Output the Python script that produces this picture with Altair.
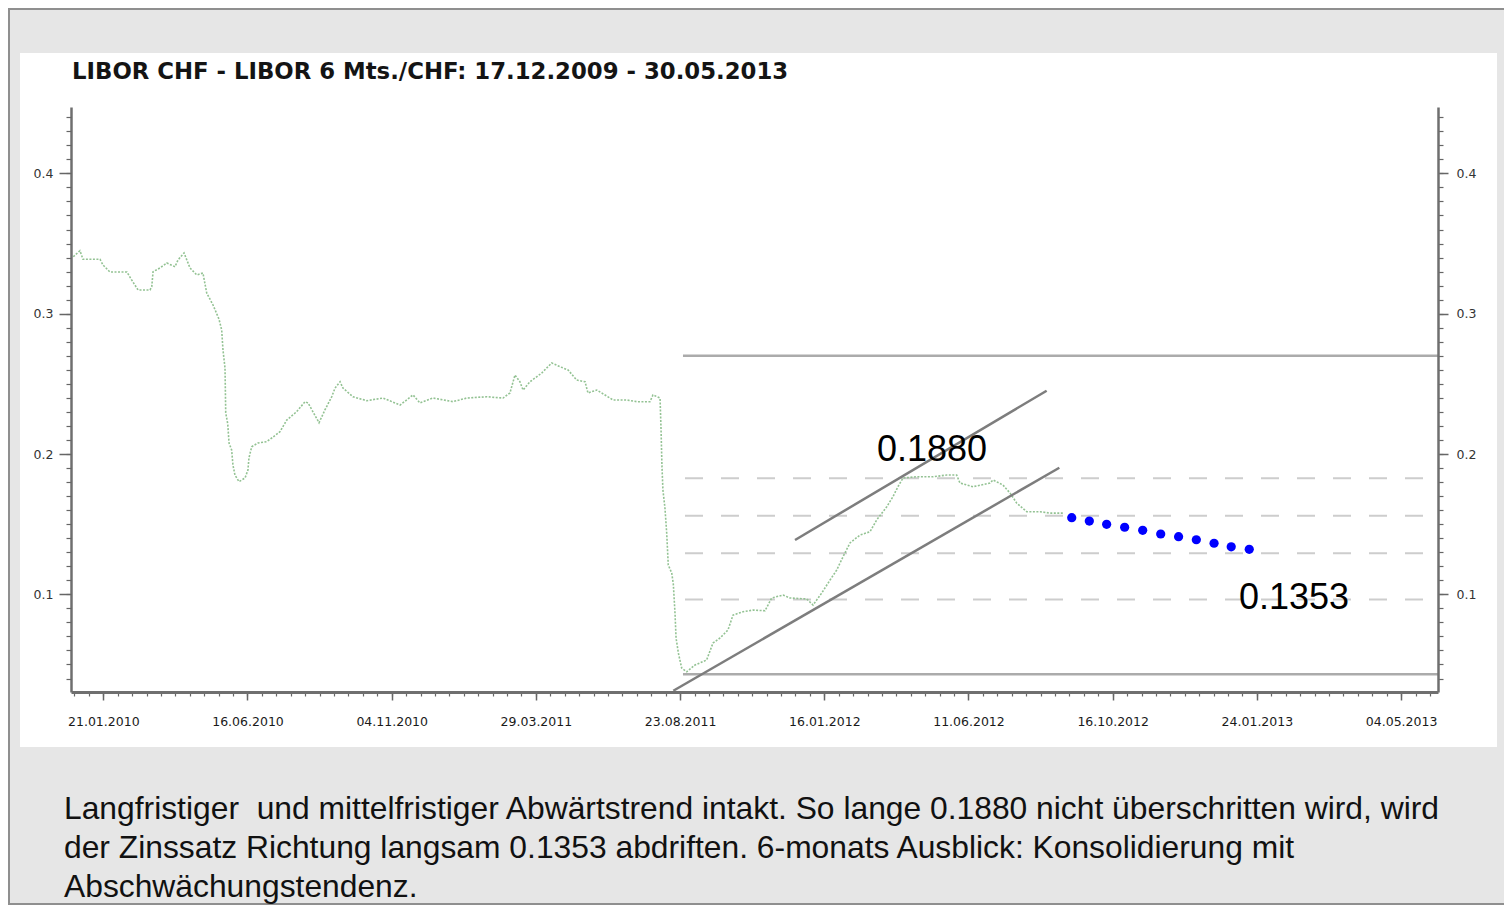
import json
import altair as alt
import pandas as pd

TITLE = "LIBOR CHF - LIBOR 6 Mts./CHF: 17.12.2009 - 30.05.2013"
X_LABELS = ["21.01.2010", "16.06.2010", "04.11.2010", "29.03.2011", "23.08.2011",
            "16.01.2012", "11.06.2012", "16.10.2012", "24.01.2013", "04.05.2013"]
X_TICKS = list(range(10))
X_MINOR = [round(-0.2 + 0.1 * i, 1) for i in range(95)]
Y_TICKS = [0.1, 0.2, 0.3, 0.4]
Y_MINOR = [round(0.04 + 0.01 * i, 2) for i in range(41)]
X_DOMAIN = [-0.224, 9.256]
Y_DOMAIN = [0.0304, 0.4473]

# LIBOR 6M CHF series (x in label-interval units, 0 = 21.01.2010)
libor_x = [-0.208, -0.162, -0.141, -0.023, -0.002, 0.046, 0.164, 0.197, 0.241, 0.324,
           0.336, 0.345, 0.393, 0.440, 0.497, 0.518, 0.560, 0.601, 0.648, 0.691,
           0.717, 0.761, 0.802, 0.821, 0.830, 0.844, 0.849, 0.863, 0.872, 0.890,
           0.899, 0.913, 0.941, 0.983, 1.003, 1.010, 1.029, 1.073, 1.133, 1.168,
           1.225, 1.272, 1.341, 1.399, 1.420, 1.496, 1.537, 1.584, 1.607, 1.642,
           1.662, 1.732, 1.827, 1.940, 2.058, 2.148, 2.196, 2.286, 2.425, 2.520,
           2.659, 2.772, 2.820, 2.855, 2.889, 2.911, 2.959, 3.040, 3.110, 3.167,
           3.223, 3.283, 3.341, 3.361, 3.422, 3.479, 3.535, 3.630, 3.699, 3.791,
           3.812, 3.861, 3.868, 3.874, 3.881, 3.895, 3.907, 3.918, 3.942, 3.953,
           3.965, 3.972, 3.988, 4.011, 4.046, 4.103, 4.184, 4.228, 4.277, 4.332,
           4.367, 4.436, 4.506, 4.589, 4.635, 4.714, 4.762, 4.878, 4.922, 4.982,
           5.040, 5.086, 5.130, 5.178, 5.248, 5.317, 5.363, 5.433, 5.476, 5.511,
           5.546, 5.641, 5.754, 5.849, 5.918, 5.941, 6.031, 6.149, 6.170, 6.239,
           6.288, 6.334, 6.404, 6.496, 6.565, 6.655]
libor_y = [0.3406, 0.3449, 0.3388, 0.3388, 0.3347, 0.3297, 0.3297, 0.3240, 0.3169, 0.3169,
           0.3192, 0.3299, 0.3326, 0.3361, 0.3335, 0.3383, 0.3433, 0.3326, 0.3276, 0.3290,
           0.3148, 0.3062, 0.2962, 0.2884, 0.2741, 0.2613, 0.2294, 0.2214, 0.2078, 0.2029,
           0.1922, 0.1850, 0.1803, 0.1829, 0.1886, 0.1971, 0.2052, 0.2078, 0.2088, 0.2114,
           0.2159, 0.2242, 0.2302, 0.2373, 0.2364, 0.2223, 0.2314, 0.2408, 0.2470, 0.2515,
           0.2470, 0.2408, 0.2380, 0.2399, 0.2349, 0.2421, 0.2364, 0.2399, 0.2373, 0.2399,
           0.2408, 0.2399, 0.2435, 0.2563, 0.2515, 0.2456, 0.2515, 0.2577, 0.2649, 0.2622,
           0.2599, 0.2527, 0.2515, 0.2435, 0.2456, 0.2421, 0.2385, 0.2385, 0.2373, 0.2373,
           0.2421, 0.2399, 0.2171, 0.1922, 0.1743, 0.1615, 0.1439, 0.1209, 0.1152, 0.1073,
           0.0860, 0.0689, 0.0582, 0.0475, 0.0448, 0.0496, 0.0532, 0.0653, 0.0689, 0.0746,
           0.0852, 0.0876, 0.0888, 0.0883, 0.0974, 0.0995, 0.0974, 0.0967, 0.0924, 0.1009,
           0.1102, 0.1173, 0.1268, 0.1366, 0.1423, 0.1446, 0.1530, 0.1624, 0.1696, 0.1767,
           0.1829, 0.1838, 0.1838, 0.1850, 0.1850, 0.1793, 0.1767, 0.1793, 0.1815, 0.1779,
           0.1722, 0.1651, 0.1589, 0.1589, 0.1579, 0.1579]

# Forecast (blue dots)
forecast_x = [6.716, 6.838, 6.958, 7.083, 7.208, 7.333, 7.457, 7.580, 7.703, 7.822, 7.947]
forecast_y = [0.1546, 0.1522, 0.1499, 0.1478, 0.1456, 0.1430, 0.1411, 0.1389, 0.1364, 0.1339, 0.1321]

# Horizontal levels
solid_levels = [0.2700, 0.0431]
solid_start = [4.020, 4.020]
solid_end = [9.256, 9.256]
dashed_levels = [0.1827, 0.1560, 0.1292, 0.0964]
dashed_start = 4.034
dashed_end = 9.166

# Trend channel lines
trend_x0 = [4.797, 3.953]
trend_y0 = [0.1387, 0.0313]
trend_x1 = [6.542, 6.630]
trend_y1 = [0.2451, 0.1902]

# Annotations
ann_text = ["0.1880", "0.1353"]
ann_x = [5.747, 8.257]
ann_y = [0.2028, 0.0974]

CAPTION_LINES = [
    "Langfristiger\u00a0 und mittelfristiger Abwärtstrend intakt. So lange 0.1880 nicht überschritten wird, wird",
    "der Zinssatz Richtung langsam 0.1353 abdriften. 6-monats Ausblick: Konsolidierung mit",
    "Abschwächungstendenz.",
]

libor_df = pd.DataFrame({"u": libor_x, "v": libor_y})
fc_df = pd.DataFrame({"u": forecast_x, "v": forecast_y})
solid_df = pd.DataFrame({"x0": solid_start, "x1": solid_end, "lv": solid_levels})
dashed_df = pd.DataFrame({"x0": [dashed_start] * len(dashed_levels),
                          "x1": [dashed_end] * len(dashed_levels), "lv": dashed_levels})
trend_df = pd.DataFrame({"x0": trend_x0, "y0": trend_y0, "x1": trend_x1, "y1": trend_y1})
ann_df = pd.DataFrame({"t": ann_text, "u": ann_x, "v": ann_y})
cap_df = pd.DataFrame({"t": ["\n".join(CAPTION_LINES)]})
title_df = pd.DataFrame({"t": [TITLE]})
one_df = pd.DataFrame({"k": [0]})

xs = alt.Scale(domain=X_DOMAIN, nice=False, zero=False)
ys = alt.Scale(domain=Y_DOMAIN, nice=False, zero=False)

AX_COLOR = "#6f6f6f"
TICK_COLOR = "#666666"

ax_x_major = alt.Axis(orient="bottom", values=X_TICKS,
                      labelExpr=json.dumps(X_LABELS) + "[round(datum.value)]",
                      tickSize=8, tickWidth=1.5, tickColor=TICK_COLOR,
                      domainColor=AX_COLOR, domainWidth=3,
                      labelFont="DejaVu Sans", labelFontSize=12.5, labelColor="#1a1a1a",
                      labelPadding=15, labelFlush=False, labelOverlap=False,
                      grid=False, title="", zindex=1)
ax_x_minor = alt.Axis(orient="bottom", values=X_MINOR, tickSize=4, tickWidth=1.2,
                      tickColor=TICK_COLOR, domain=False, labels=False, grid=False,
                      title="", zindex=1)
ax_y_left = alt.Axis(orient="left", values=Y_TICKS, format=".1f", tickSize=12, tickWidth=1.5,
                     tickColor=TICK_COLOR, domainColor=AX_COLOR, domainWidth=2.5,
                     labelFont="DejaVu Sans", labelFontSize=12.5, labelColor="#333333",
                     labelPadding=6, grid=False, title="", zindex=1)
ax_y_left_minor = alt.Axis(orient="left", values=Y_MINOR, tickSize=5, tickWidth=1.2,
                           tickColor=TICK_COLOR, domain=False, labels=False, grid=False,
                           title="", zindex=1)
ax_y_right = alt.Axis(orient="right", values=Y_TICKS, format=".1f", tickSize=10, tickWidth=1.5,
                      tickColor=TICK_COLOR, domainColor=AX_COLOR, domainWidth=2.5,
                      labelFont="DejaVu Sans", labelFontSize=12.5, labelColor="#333333",
                      labelPadding=8, grid=False, title="", zindex=1)
ax_y_right_minor = alt.Axis(orient="right", values=Y_MINOR, tickSize=5, tickWidth=1.2,
                            tickColor=TICK_COLOR, domain=False, labels=False, grid=False,
                            title="", zindex=1)

frame = alt.Chart(one_df).mark_rect(fill="#e6e6e6", stroke="#8f8f8f", strokeWidth=2).encode(
    x=alt.value(-62), x2=alt.value(1440), y=alt.value(-98), y2=alt.value(797))
panel = alt.Chart(one_df).mark_rect(fill="white").encode(
    x=alt.value(-51), x2=alt.value(1426), y=alt.value(-54), y2=alt.value(640))

title = alt.Chart(title_df).mark_text(font="DejaVu Sans", fontSize=22.8, fontWeight="bold",
                                      color="#141414", align="left", baseline="middle").encode(
    x=alt.value(1), y=alt.value(-35), text="t:N")

dashed = alt.Chart(dashed_df).mark_rule(color="#cdcdcd", strokeWidth=2, strokeDash=[18, 18]).encode(
    x=alt.X("x0:Q", scale=xs, axis=None), x2="x1:Q",
    y=alt.Y("lv:Q", scale=ys, axis=ax_y_right_minor))

solid = alt.Chart(solid_df).mark_rule(color="#ababab", strokeWidth=2.5).encode(
    x=alt.X("x0:Q", scale=xs, axis=ax_x_minor), x2="x1:Q",
    y=alt.Y("lv:Q", scale=ys, axis=ax_y_right))

green = alt.Chart(libor_df).mark_line(color="#93c293", strokeWidth=1.6, strokeDash=[2, 1.5]).encode(
    x=alt.X("u:Q", scale=xs, axis=ax_x_major),
    y=alt.Y("v:Q", scale=ys, axis=ax_y_left))

trend = alt.Chart(trend_df).mark_rule(color="#7d7d7d", strokeWidth=2.5).encode(
    x=alt.X("x0:Q", scale=xs, axis=None), x2="x1:Q",
    y=alt.Y("y0:Q", scale=ys, axis=ax_y_left_minor), y2="y1:Q")

blue = alt.Chart(fc_df).mark_circle(color="#0000ff", size=85, opacity=1).encode(
    x=alt.X("u:Q", scale=xs, axis=None),
    y=alt.Y("v:Q", scale=ys, axis=None))

ann = alt.Chart(ann_df).mark_text(font="Liberation Sans", fontSize=36, color="#000000",
                                  align="center", baseline="middle").encode(
    x=alt.X("u:Q", scale=xs, axis=None),
    y=alt.Y("v:Q", scale=ys, axis=None),
    text="t:N")

caption = alt.Chart(cap_df).mark_text(font="Liberation Sans", fontSize=31.8, color="#111111",
                                      align="left", baseline="alphabetic",
                                      lineBreak="\n", lineHeight=39).encode(
    x=alt.value(-7), y=alt.value(712), text="t:N")

chart = alt.layer(frame, panel, title, dashed, solid, green, trend, blue, ann, caption).resolve_axis(
    x="independent", y="independent"
).properties(
    width=1367, height=585,
    padding={"left": 63, "top": 99, "right": 66, "bottom": 214},
    autosize=alt.AutoSizeParams(type="none"),
    background="white",
).configure_view(stroke="transparent")

chart.save("out.html", embed_options={"renderer": "svg", "actions": False})
